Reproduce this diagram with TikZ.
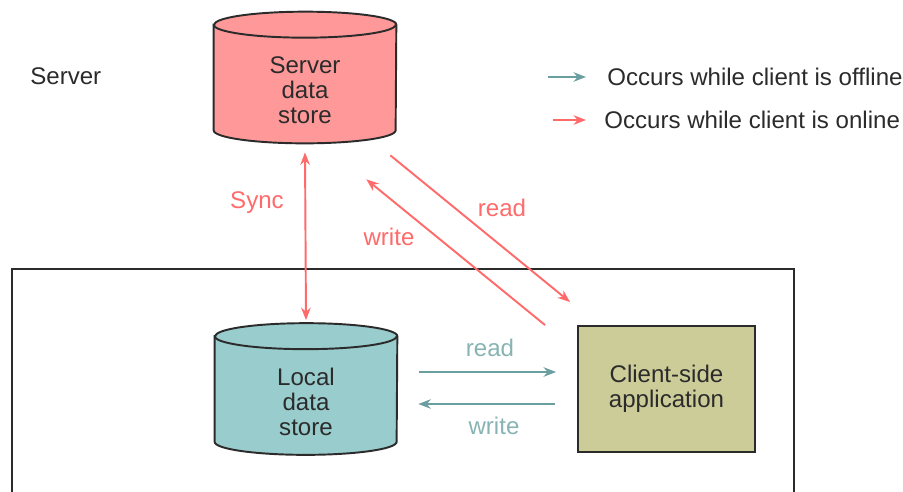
\documentclass[tikz,border=0pt]{standalone}
\usepackage{fontspec}
\setmainfont{Liberation Sans}
\usetikzlibrary{arrows.meta, backgrounds}

\definecolor{serverpink}{HTML}{FF9999}
\definecolor{localteal}{HTML}{99CCCC}
\definecolor{appkhaki}{HTML}{CCCC99}
\definecolor{onlinered}{HTML}{FF6A6A}
\definecolor{offlineteal}{HTML}{6B9E9E}
\definecolor{offlinetext}{HTML}{88B3B3}
\definecolor{inkgray}{HTML}{2B2B2B}

\tikzset{
  store/.style={minimum width=3.64cm, minimum height=2.1cm, inner sep=0pt, align=center, text=inkgray},
  appbox/.style={draw=inkgray, fill=appkhaki, line width=1.1pt, minimum width=3.54cm, minimum height=2.52cm, align=center, text=inkgray},
  tip/.tip={Stealth[length=0.25cm, width=0.19cm]},
  online/.style={draw=onlinered, line width=1.1pt, -tip},
  offline/.style={draw=offlineteal, line width=1.1pt, -tip},
  legend/.style={anchor=west, inner sep=0pt, text=inkgray},
}

% drum outline behind a store node: #1 node, #2 fill
\newcommand{\drum}[2]{%
  \filldraw[fill=#2, draw=inkgray, line width=1.1pt]
    ([yshift=0.26cm]#1.north west) -- ([yshift=0.26cm]#1.south west)
    arc[start angle=180, end angle=360, x radius=1.82cm, y radius=0.26cm]
    -- ([yshift=0.26cm]#1.north east)
    arc[start angle=0, end angle=180, x radius=1.82cm, y radius=0.26cm] -- cycle;
  \draw[inkgray, line width=1.1pt] ([yshift=0.26cm]#1.north west)
    arc[start angle=180, end angle=360, x radius=1.82cm, y radius=0.26cm];
}

\begin{document}
\begin{tikzpicture}[x=0.02cm, y=-0.02cm, font=\fontsize{13.7}{14.2}\selectfont]
  \useasboundingbox (0,0) rectangle (903,491);

  % Client frame (runs off the bottom)
  \draw[inkgray, line width=1.1pt] (12,495) -- (12,269) -- (794,269) -- (794,495);

  % Server side
  \node[legend] (srvlbl) at (30,76) {Server};
  \node[store] (srv) at (305,90.5) {Server\\data\\store};

  % Client side
  \node[store] (loc) at (306,402) {Local\\data\\store};
  \node[appbox] (app) at (666.5,389) {Client-side\\application};

  \begin{scope}[on background layer]
    \drum{srv}{serverpink}
    \drum{loc}{localteal}
  \end{scope}

  % Sync between the stores
  \draw[online, tip-tip] ([yshift=-0.18cm]srv.south) -- ([yshift=0.58cm]loc.north);
  \node[text=onlinered] (synclbl) at (257,203) {Sync};

  % Online read / write
  \draw[online] ([shift={(-6,12)}]srv.south east) -- ([shift={(-7,-23)}]app.north west);
  \draw[online] ([shift={(-32,0)}]app.north west) -- ([shift={(-30,36)}]srv.south east);
  \node[text=onlinered] (rdlbl) at (502,208) {read};
  \node[text=onlinered] (wrlbl) at (389,237) {write};

  % Offline read / write
  \draw[offline] ([shift={(22,-30)}]loc.east) -- ([shift={(-21,-17)}]app.west);
  \draw[offline] ([shift={(-22,15)}]app.west) -- ([shift={(21,2)}]loc.east);
  \node[text=offlinetext] (lrdlbl) at (490,348) {read};
  \node[text=offlinetext] (lwrlbl) at (494,426) {write};

  % Legend
  \node[legend] (offl) at (607,77) {Occurs while client is offline};
  \node[legend] (onl) at (604,120) {Occurs while client is online};
  \draw[offline] ([xshift=-1.18cm]offl.west) -- ([xshift=-0.42cm]offl.west);
  \draw[online] ([xshift=-1.02cm]onl.west) -- ([xshift=-0.36cm]onl.west);
\end{tikzpicture}
\end{document}
